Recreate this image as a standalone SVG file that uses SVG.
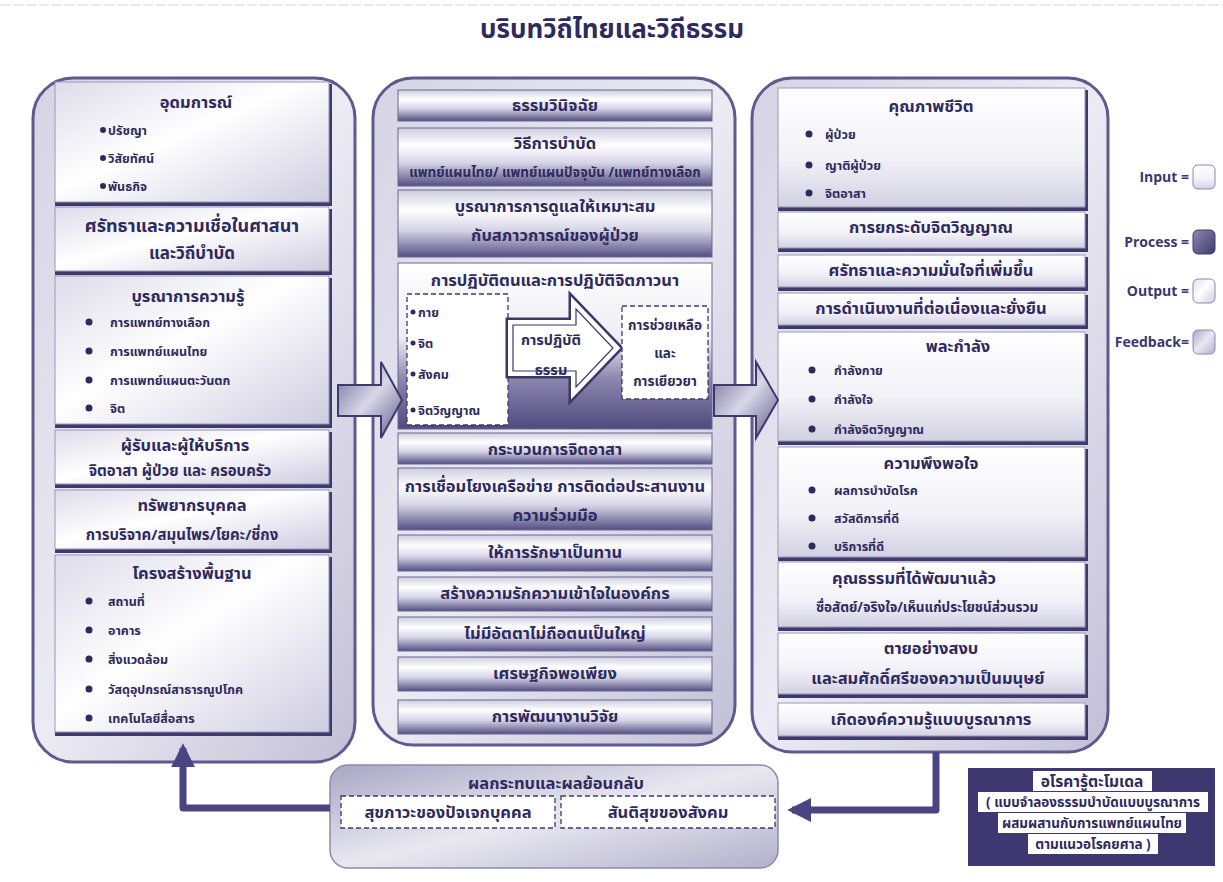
<svg xmlns="http://www.w3.org/2000/svg" width="1223" height="882" viewBox="0 0 1223 882">
  <defs>
    <linearGradient id="colGrad" x1="0" y1="0" x2="1" y2="1">
      <stop offset="0" stop-color="#d6d4e4"/>
      <stop offset="0.5" stop-color="#eceaf3"/>
      <stop offset="1" stop-color="#c3c0d7"/>
    </linearGradient>
    <linearGradient id="inGrad" x1="0" y1="0" x2="1" y2="1">
      <stop offset="0" stop-color="#dedcea"/>
      <stop offset="0.45" stop-color="#ffffff"/>
      <stop offset="1" stop-color="#cfcce0"/>
    </linearGradient>
    <linearGradient id="outGrad" x1="0" y1="0" x2="0" y2="1">
      <stop offset="0" stop-color="#ffffff"/>
      <stop offset="0.6" stop-color="#f2f1f7"/>
      <stop offset="1" stop-color="#d2d0e2"/>
    </linearGradient>
    <linearGradient id="procGrad" x1="0" y1="0" x2="0" y2="1">
      <stop offset="0" stop-color="#cfcddf"/>
      <stop offset="0.3" stop-color="#ffffff"/>
      <stop offset="0.6" stop-color="#d6d4e6"/>
      <stop offset="1" stop-color="#544f83"/>
    </linearGradient>
    <linearGradient id="procBig" x1="0" y1="0" x2="0" y2="1">
      <stop offset="0" stop-color="#ffffff"/>
      <stop offset="0.45" stop-color="#eeedf4"/>
      <stop offset="0.7" stop-color="#8a86ad"/>
      <stop offset="1" stop-color="#4f4a7f"/>
    </linearGradient>
    <linearGradient id="fbGrad" x1="0" y1="0" x2="1" y2="1">
      <stop offset="0" stop-color="#a9a6c4"/>
      <stop offset="0.5" stop-color="#e9e8f1"/>
      <stop offset="1" stop-color="#b3b0cb"/>
    </linearGradient>
    <linearGradient id="arrowGrad" x1="0" y1="0" x2="1" y2="1">
      <stop offset="0" stop-color="#6d6997"/>
      <stop offset="0.5" stop-color="#d9d7e6"/>
      <stop offset="1" stop-color="#5b5689"/>
    </linearGradient>
    <linearGradient id="legProc" x1="0" y1="0" x2="1" y2="1">
      <stop offset="0" stop-color="#8d89b0"/>
      <stop offset="1" stop-color="#3e3a6e"/>
    </linearGradient>
    <marker id="head" viewBox="0 0 10 10" refX="8" refY="5" markerWidth="3.4" markerHeight="3.4" orient="auto">
      <path d="M0,0 L10,5 L0,10 z" fill="#4a4580"/>
    </marker>
    <style>
      text { font-family: "Noto Sans Thai", "Noto Sans", "DejaVu Sans", sans-serif; fill: #2e2a5e; font-weight: bold; }
      .title { font-size: 26px; text-anchor: middle; }
      .h { font-size: 16.5px; text-anchor: middle; }
      .s { font-size: 13.5px; text-anchor: middle; }
      .sl { font-size: 15px; text-anchor: middle; }
      .b { font-size: 12.5px; }
      .leg { font-size: 14px; text-anchor: end; font-family: "Open Sans", "Liberation Sans", sans-serif; fill: #3a3670; }
      .col { fill: url(#colGrad); stroke: #5f5a8e; stroke-width: 3; }
      .shadow { fill: #3e3a6e; }
      .in { fill: url(#inGrad); stroke: #9a97b8; stroke-width: 1; }
      .out { fill: url(#outGrad); stroke: #9a97b8; stroke-width: 1; }
      .proc { fill: url(#procGrad); stroke: #6a6693; stroke-width: 1; }
      .dash { fill: #ffffff; stroke: #3e3a6e; stroke-width: 1.3; stroke-dasharray: 5 3; }
      .dot { fill: #2e2a5e; }
      .link { fill: none; stroke: #4a4580; stroke-width: 7; stroke-linejoin: round; }
      .block { fill: url(#arrowGrad); stroke: #3e3a6e; stroke-width: 2; }
    </style>
  </defs>

  <rect width="1223" height="882" fill="#ffffff"/>
  <line x1="0" y1="5" x2="1223" y2="5" stroke="#d4d3df" stroke-width="1" stroke-dasharray="10 3"/>

  <text class="title" x="612" y="38">บริบทวิถีไทยและวิถีธรรม</text>

  <!-- Input column -->
  <g id="input-column">
    <rect class="col" x="33" y="78" width="322" height="684" rx="40"/>
    <g id="ideology">
      <rect class="shadow" x="55" y="84" width="277" height="122"/>
      <rect class="in" x="55" y="82" width="274" height="120"/>
      <text class="h" x="196" y="108">อุดมการณ์</text>
      <circle class="dot" cx="103" cy="130" r="3"/><text class="b" x="108" y="135">ปรัชญา</text>
      <circle class="dot" cx="103" cy="158" r="3"/><text class="b" x="108" y="163">วิสัยทัศน์</text>
      <circle class="dot" cx="103" cy="186" r="3"/><text class="b" x="108" y="191">พันธกิจ</text>
    </g>
    <g id="faith">
      <rect class="shadow" x="55" y="209" width="277" height="66"/>
      <rect class="in" x="55" y="207" width="274" height="64"/>
      <text class="h" x="192" y="232" style="font-size:18px">ศรัทธาและความเชื่อในศาสนา</text>
      <text class="h" x="192" y="259" style="font-size:17px">และวิถีบำบัด</text>
    </g>
    <g id="knowledge">
      <rect class="shadow" x="55" y="278" width="277" height="150"/>
      <rect class="in" x="55" y="276" width="274" height="148"/>
      <text class="h" x="188" y="302">บูรณาการความรู้</text>
      <circle class="dot" cx="89" cy="322" r="3.5"/><text class="b" x="110" y="327">การแพทย์ทางเลือก</text>
      <circle class="dot" cx="89" cy="351" r="3.5"/><text class="b" x="110" y="356">การแพทย์แผนไทย</text>
      <circle class="dot" cx="89" cy="380" r="3.5"/><text class="b" x="110" y="385">การแพทย์แผนตะวันตก</text>
      <circle class="dot" cx="89" cy="408" r="3.5"/><text class="b" x="110" y="413">จิต</text>
    </g>
    <g id="providers">
      <rect class="shadow" x="55" y="432" width="277" height="56"/>
      <rect class="in" x="55" y="430" width="274" height="54"/>
      <text class="h" x="185" y="451">ผู้รับและผู้ให้บริการ</text>
      <text class="sl" x="180" y="476">จิตอาสา ผู้ป่วย และ ครอบครัว</text>
    </g>
    <g id="human-resources">
      <rect class="shadow" x="55" y="492" width="277" height="61"/>
      <rect class="in" x="55" y="490" width="274" height="59"/>
      <text class="h" x="192" y="511">ทรัพยากรบุคคล</text>
      <text class="sl" x="182" y="540">การบริจาค/สมุนไพร/โยคะ/ชี่กง</text>
    </g>
    <g id="infrastructure">
      <rect class="shadow" x="55" y="557" width="277" height="179"/>
      <rect class="in" x="55" y="555" width="274" height="177"/>
      <text class="h" x="192" y="579">โครงสร้างพื้นฐาน</text>
      <circle class="dot" cx="89" cy="601" r="3.5"/><text class="b" x="108" y="606">สถานที่</text>
      <circle class="dot" cx="89" cy="630" r="3.5"/><text class="b" x="108" y="635">อาคาร</text>
      <circle class="dot" cx="89" cy="659" r="3.5"/><text class="b" x="108" y="664">สิ่งแวดล้อม</text>
      <circle class="dot" cx="89" cy="689" r="3.5"/><text class="b" x="108" y="694">วัสดุอุปกรณ์สาธารณูปโภค</text>
      <circle class="dot" cx="89" cy="718" r="3.5"/><text class="b" x="108" y="723">เทคโนโลยีสื่อสาร</text>
    </g>
  </g>

  <!-- Process column -->
  <g id="process-column">
    <rect class="col" x="373" y="78" width="362" height="667" rx="40"/>
    <g id="dhamma-diagnosis">
      <rect class="proc" x="398" y="90" width="314" height="31"/>
      <text class="h" x="555" y="111">ธรรมวินิจฉัย</text>
    </g>
    <g id="therapy">
      <rect class="proc" x="398" y="128" width="314" height="58"/>
      <text class="h" x="555" y="149">วิธีการบำบัด</text>
      <text class="s" x="555" y="177">แพทย์แผนไทย/ แพทย์แผนปัจจุบัน /แพทย์ทางเลือก</text>
    </g>
    <g id="integrated-care">
      <rect class="proc" x="398" y="190" width="314" height="67"/>
      <text class="h" x="555" y="212">บูรณาการการดูแลให้เหมาะสม</text>
      <text class="h" x="555" y="241">กับสภาวการณ์ของผู้ป่วย</text>
    </g>
    <g id="practice">
      <rect x="398" y="263" width="314" height="166" fill="url(#procBig)" stroke="#6a6693" stroke-width="1"/>
      <text class="h" x="555" y="286">การปฏิบัติตนและการปฏิบัติจิตภาวนา</text>
      <rect class="dash" x="407" y="294" width="101" height="131"/>
      <circle class="dot" cx="413" cy="312" r="2.5"/><text class="b" x="418" y="317">กาย</text>
      <circle class="dot" cx="413" cy="343" r="2.5"/><text class="b" x="418" y="348">จิต</text>
      <circle class="dot" cx="413" cy="374" r="2.5"/><text class="b" x="418" y="379">สังคม</text>
      <circle class="dot" cx="413" cy="410" r="2.5"/><text class="b" x="418" y="415">จิตวิญญาณ</text>
      <polygon points="509,321 572,321 572,299 619,348 572,397 572,375 509,375" fill="#ffffff" stroke="#3b3768" stroke-width="7" stroke-linejoin="miter"/>
      <polygon points="509,321 572,321 572,299 619,348 572,397 572,375 509,375" fill="#ffffff" stroke="#ffffff" stroke-width="2"/>
      <polygon points="513,325 576,325 576,309 613,348 576,387 576,371 513,371" fill="#ffffff" stroke="#3b3768" stroke-width="1.2"/>
      <text class="s" x="551" y="345" style="font-size:14.5px">การปฏิบัติ</text>
      <text class="s" x="551" y="375" style="font-size:14.5px">ธรรม</text>
      <rect class="dash" x="622" y="306" width="86" height="93"/>
      <text class="s" x="665" y="330">การช่วยเหลือ</text>
      <text class="s" x="665" y="358">และ</text>
      <text class="s" x="665" y="386">การเยียวยา</text>
    </g>
    <g id="volunteer-process">
      <rect class="proc" x="398" y="433" width="314" height="31"/>
      <text class="h" x="555" y="455">กระบวนการจิตอาสา</text>
    </g>
    <g id="network">
      <rect class="proc" x="398" y="468" width="314" height="62"/>
      <text class="h" x="555" y="492">การเชื่อมโยงเครือข่าย การติดต่อประสานงาน</text>
      <text class="h" x="555" y="521">ความร่วมมือ</text>
    </g>
    <g id="free-treatment">
      <rect class="proc" x="398" y="535" width="314" height="36"/>
      <text class="h" x="555" y="558">ให้การรักษาเป็นทาน</text>
    </g>
    <g id="understanding">
      <rect class="proc" x="398" y="577" width="314" height="34"/>
      <text class="h" x="555" y="599">สร้างความรักความเข้าใจในองค์กร</text>
    </g>
    <g id="no-ego">
      <rect class="proc" x="398" y="617" width="314" height="34"/>
      <text class="h" x="555" y="639">ไม่มีอัตตาไม่ถือตนเป็นใหญ่</text>
    </g>
    <g id="sufficiency">
      <rect class="proc" x="398" y="657" width="314" height="34"/>
      <text class="h" x="555" y="679">เศรษฐกิจพอเพียง</text>
    </g>
    <g id="research">
      <rect class="proc" x="398" y="700" width="314" height="34"/>
      <text class="h" x="555" y="722">การพัฒนางานวิจัย</text>
    </g>
  </g>

  <!-- Output column -->
  <g id="output-column">
    <rect class="col" x="752" y="78" width="356" height="674" rx="40"/>
    <g id="quality-of-life">
      <rect class="shadow" x="778" y="90" width="310" height="121"/>
      <rect class="out" x="778" y="88" width="307" height="119"/>
      <text class="h" x="931" y="112">คุณภาพชีวิต</text>
      <circle class="dot" cx="809" cy="134" r="3.5"/><text class="b" x="825" y="139">ผู้ป่วย</text>
      <circle class="dot" cx="809" cy="165" r="3.5"/><text class="b" x="825" y="170">ญาติผู้ป่วย</text>
      <circle class="dot" cx="809" cy="193" r="3.5"/><text class="b" x="825" y="198">จิตอาสา</text>
    </g>
    <g id="spiritual-level">
      <rect class="shadow" x="778" y="214" width="310" height="38"/>
      <rect class="out" x="778" y="212" width="307" height="36"/>
      <text class="h" x="931" y="233">การยกระดับจิตวิญญาณ</text>
    </g>
    <g id="confidence">
      <rect class="shadow" x="778" y="257" width="310" height="34"/>
      <rect class="out" x="778" y="255" width="307" height="32"/>
      <text class="h" x="931" y="276">ศรัทธาและความมั่นใจที่เพิ่มขึ้น</text>
    </g>
    <g id="sustainability">
      <rect class="shadow" x="778" y="295" width="310" height="34"/>
      <rect class="out" x="778" y="293" width="307" height="32"/>
      <text class="h" x="931" y="314">การดำเนินงานที่ต่อเนื่องและยั่งยืน</text>
    </g>
    <g id="strength">
      <rect class="shadow" x="778" y="334" width="310" height="111"/>
      <rect class="out" x="778" y="332" width="307" height="109"/>
      <text class="h" x="958" y="352">พละกำลัง</text>
      <circle class="dot" cx="812" cy="370" r="3.5"/><text class="b" x="834" y="375">กำลังกาย</text>
      <circle class="dot" cx="812" cy="399" r="3.5"/><text class="b" x="834" y="404">กำลังใจ</text>
      <circle class="dot" cx="812" cy="429" r="3.5"/><text class="b" x="834" y="434">กำลังจิตวิญญาณ</text>
    </g>
    <g id="satisfaction">
      <rect class="shadow" x="778" y="449" width="310" height="112"/>
      <rect class="out" x="778" y="447" width="307" height="110"/>
      <text class="h" x="931" y="469">ความพึงพอใจ</text>
      <circle class="dot" cx="812" cy="490" r="3.5"/><text class="b" x="834" y="495">ผลการบำบัดโรค</text>
      <circle class="dot" cx="812" cy="518" r="3.5"/><text class="b" x="834" y="523">สวัสดิการที่ดี</text>
      <circle class="dot" cx="812" cy="546" r="3.5"/><text class="b" x="834" y="551">บริการที่ดี</text>
    </g>
    <g id="virtue">
      <rect class="shadow" x="778" y="564" width="310" height="67"/>
      <rect class="out" x="778" y="562" width="307" height="65"/>
      <text class="h" x="914" y="584">คุณธรรมที่ได้พัฒนาแล้ว</text>
      <text class="s" x="927" y="612">ซื่อสัตย์/จริงใจ/เห็นแก่ประโยชน์ส่วนรวม</text>
    </g>
    <g id="peaceful-death">
      <rect class="shadow" x="778" y="635" width="310" height="63"/>
      <rect class="out" x="778" y="633" width="307" height="61"/>
      <text class="h" x="931" y="654">ตายอย่างสงบ</text>
      <text class="h" x="928" y="684">และสมศักดิ์ศรีของความเป็นมนุษย์</text>
    </g>
    <g id="integrated-knowledge">
      <rect class="shadow" x="778" y="705" width="310" height="35"/>
      <rect class="out" x="778" y="703" width="307" height="33"/>
      <text class="h" x="931" y="725">เกิดองค์ความรู้แบบบูรณาการ</text>
    </g>
  </g>

  <!-- Feedback -->
  <g id="feedback">
    <rect x="330" y="765" width="448" height="103" rx="18" fill="url(#fbGrad)" stroke="#8d8aad" stroke-width="1.5"/>
    <text class="h" x="556" y="789">ผลกระทบและผลย้อนกลับ</text>
    <rect class="dash" x="341" y="796" width="214" height="32"/>
    <text class="h" x="448" y="818">สุขภาวะของปัจเจกบุคคล</text>
    <rect class="dash" x="561" y="796" width="214" height="32"/>
    <text class="h" x="668" y="818">สันติสุขของสังคม</text>
  </g>

  <!-- Legend -->
  <g id="legend">
    <text class="leg" x="1189" y="182">Input =</text>
    <rect x="1193" y="165" width="22" height="24" rx="5" fill="url(#outGrad)" stroke="#8d8aad"/>
    <text class="leg" x="1189" y="247">Process =</text>
    <rect x="1193" y="230" width="22" height="24" rx="5" fill="url(#legProc)" stroke="#3e3a6e"/>
    <text class="leg" x="1189" y="296">Output =</text>
    <rect x="1193" y="279" width="22" height="24" rx="5" fill="url(#inGrad)" stroke="#8d8aad"/>
    <text class="leg" x="1189" y="347">Feedback=</text>
    <rect x="1193" y="330" width="22" height="24" rx="5" fill="url(#fbGrad)" stroke="#8d8aad"/>
  </g>

  <!-- Model caption -->
  <g id="model-caption">
    <rect x="968" y="768" width="247" height="98" fill="#3d3870"/>
    <rect x="1033" y="771" width="119" height="20" fill="#ffffff"/>
    <rect x="978" y="792" width="230" height="20" fill="#ffffff"/>
    <rect x="998" y="813" width="188" height="20" fill="#ffffff"/>
    <rect x="1028" y="834" width="130" height="20" fill="#ffffff"/>
    <text class="s" x="1092" y="787" style="font-size:15.5px">อโรคารู้ตะโมเดล</text>
    <text class="s" x="1093" y="807">( แบบจำลองธรรมบำบัดแบบบูรณาการ</text>
    <text class="s" x="1092" y="828">ผสมผสานกับการแพทย์แผนไทย</text>
    <text class="s" x="1093" y="849">ตามแนวอโรคยศาล )</text>
  </g>

  <!-- Connectors -->
  <g id="connectors">
    <polygon class="block" points="338,385 381,385 381,362 402,400 381,438 381,416 338,416"/>
    <polygon class="block" points="714,385 756,385 756,362 778,400 756,438 756,416 714,416"/>
    <polyline class="link" points="936,752 936,810 792,810" marker-end="url(#head)"/>
    <polyline class="link" points="330,808 183,808 183,748" marker-end="url(#head)"/>
  </g>
</svg>
